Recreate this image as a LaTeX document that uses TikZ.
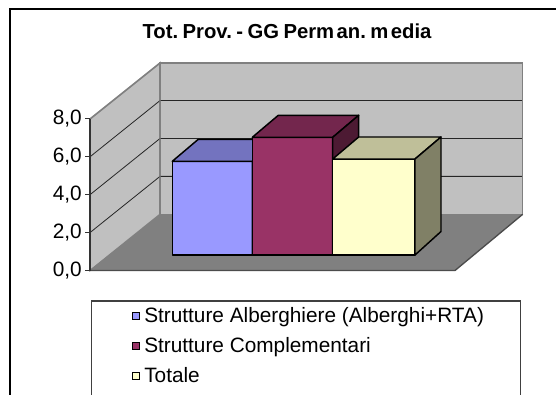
\documentclass[tikz,border=0pt]{standalone}
\usepackage{fontspec}
\setmainfont{Liberation Sans}
\definecolor{wallc}{HTML}{C0C0C0}
\definecolor{floorc}{HTML}{808080}
\definecolor{edgec}{HTML}{808080}
\definecolor{bluef}{HTML}{9999FF}
\definecolor{bluet}{HTML}{7373BF}
\definecolor{bluesd}{HTML}{4D4D80}
\definecolor{magf}{HTML}{993366}
\definecolor{magt}{HTML}{73264D}
\definecolor{mags}{HTML}{4D1A33}
\definecolor{yelf}{HTML}{FFFFCC}
\definecolor{yelt}{HTML}{BFBF99}
\definecolor{yels}{HTML}{808066}
\begin{document}
\begin{tikzpicture}[x={(0.75pt,0)},y={(0,-0.75pt)},
  txt/.style={font=\fontsize{15.6}{17}\selectfont,inner sep=0pt},
  barline/.style={draw=black,line width=1.1pt,line join=round},
  grid/.style={draw=black!85,line width=0.6pt},
  wall/.style={fill=wallc,draw=edgec,line width=1pt}]
\useasboundingbox (0,0) rectangle (556,395);
\clip (0,0) rectangle (556,395);
\fill[white] (0,0) rectangle (556,395);
% outer frame
\draw[black,line width=1pt] (10,400) -- (10,9) -- (560,9);
% title
\node[font=\bfseries\fontsize{15.2}{17}\selectfont,inner sep=0pt] (title) at (287,31) {Tot.\hspace{0.22em}Prov.\hspace{0.22em}-\hspace{0.22em}GG\hspace{0.22em}Perm\hspace{0.12em}an.\hspace{0.22em}m\hspace{0.12em}edia};
% walls
\path[wall] (90,270.5) -- (160,214.3) -- (160,63) -- (90,119) -- cycle;
\path[wall] (160,214.3) rectangle (522.7,63);
\path[fill=floorc] (90,270.5) -- (455,270.5) -- (522.7,214.3) -- (160,214.3) -- cycle;
\draw[black!70,line width=1pt] (90,270.5) -- (455,270.5) -- (522.7,214.3);
% gridlines
\foreach \v in {1,2,3} {
  \draw[grid] (90,270.5-37.9*\v) -- (160,214.3-37.9*\v) -- (522.7,214.3-37.9*\v);
}
\draw[edgec,line width=1pt] (160,63) -- (522.7,63) -- (522.7,214.3);
\draw[edgec,line width=1pt] (90,119) -- (160,63) -- (160,214.3);
% axis
\draw[black!80,line width=0.8pt] (90,119) -- (90,270.5);
\foreach \v/\l in {0/0,1/2,2/4,3/6,4/8} {
  \draw[black!80,line width=0.8pt] (85,270.5-37.9*\v) -- (90,270.5-37.9*\v);
  \node[txt,anchor=east] (lab\l) at (82,270.5-37.9*\v) {\l,0};
}
% bars: front, top, side ; depth (26,-22)
% blue
\path[barline,fill=bluef] (172.3,255) rectangle (252.3,161.3);
\path[barline,fill=bluet] (172.3,161.3) -- (198.3,139.3) -- (278.3,139.3) -- (252.3,161.3) -- cycle;
\path[barline,fill=bluesd] (252.3,161.3) -- (278.3,139.3) -- (278.3,233) -- (252.3,255) -- cycle;
% magenta
\path[barline,fill=magf] (252.3,255) rectangle (332.7,137.3);
\path[barline,fill=magt] (252.3,137.3) -- (278.3,115.3) -- (358.7,115.3) -- (332.7,137.3) -- cycle;
\path[barline,fill=mags] (332.7,137.3) -- (358.7,115.3) -- (358.7,233) -- (332.7,255) -- cycle;
% yellow
\path[barline,fill=yelf] (332.7,255) rectangle (415,159);
\path[barline,fill=yelt] (332.7,159) -- (358.7,137) -- (441,137) -- (415,159) -- cycle;
\path[barline,fill=yels] (415,159) -- (441,137) -- (441,231.5) -- (415,255) -- cycle;
% legend
\draw[black!75,line width=0.9pt] (91.5,400) -- (91.5,301) -- (520.7,301) -- (520.7,400);
\draw[black,line width=0.8pt,fill=bluef] (132.5,312.5) rectangle (139.5,319.5);
\draw[black,line width=0.8pt,fill=magf] (132.5,342.5) rectangle (139.5,349.5);
\draw[black,line width=0.8pt,fill=yelf] (132.5,372.5) rectangle (139.5,379.5);
\node[txt,anchor=base west] (leg1) at (144,322.3) {Strutture Alberghiere (Alberghi+RTA)};
\node[txt,anchor=base west] (leg2) at (144,352.5) {Strutture Complementari};
\node[txt,anchor=base west] (leg3) at (144,382.7) {Totale};
\end{tikzpicture}
\end{document}
